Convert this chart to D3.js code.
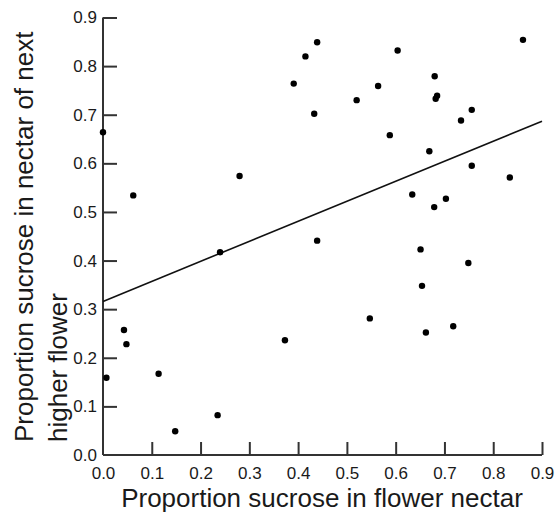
<!DOCTYPE html>
<html>
<head>
<meta charset="utf-8">
<script src="https://cdn.jsdelivr.net/npm/d3@7"></script>
<style>
  body { margin: 0; background: #fff; }
  svg text { font-family: "Liberation Sans", Arial, Helvetica, sans-serif; fill: #1a1a1a; }
  .tick text { font-size: 17px; }
</style>
</head>
<body>
<div id="chart"></div>
<script>
// sucrose proportion in flower nectar (x) vs next higher flower (y)
const sucroseFlower = [
  0.439, 0.415, 0.391, 0.433, 0.604, 0.520, 0.564, 0.680, 0.685, 0.682,
  0.756, 0.734, 0.588, 0.669, 0.756, 0.834, 0.861, 0.634, 0.703, 0.679,
  0.439, 0.651, 0.749, 0.654, 0.547, 0.718, 0.662, 0.373, 0.000, 0.062,
  0.280, 0.240, 0.043, 0.048, 0.007, 0.114, 0.148, 0.235
];
const sucroseNext = [
  0.849, 0.820, 0.764, 0.702, 0.832, 0.730, 0.759, 0.779, 0.739, 0.733,
  0.710, 0.688, 0.658, 0.625, 0.595, 0.571, 0.854, 0.536, 0.527, 0.510,
  0.441, 0.423, 0.395, 0.348, 0.281, 0.265, 0.252, 0.236, 0.664, 0.534,
  0.574, 0.417, 0.257, 0.228, 0.159, 0.167, 0.049, 0.082
];
// fitted regression line (intercept, slope)
const fitIntercept = 0.316;
const fitSlope = 0.412;
const tickValues = [0, 0.1, 0.2, 0.3, 0.4, 0.5, 0.6, 0.7, 0.8, 0.9];

const W = 556, H = 515;
const margin = { top: 17.5, right: 14, bottom: 60, left: 103 };
const width = W - margin.left - margin.right;
const height = H - margin.top - margin.bottom;

const svg = d3.select("#chart").append("svg")
  .attr("width", W)
  .attr("height", H);

const g = svg.append("g")
  .attr("transform", `translate(${margin.left},${margin.top})`);

const x = d3.scaleLinear().domain([0, 0.9]).range([0, width]);
const y = d3.scaleLinear().domain([0, 0.9]).range([height, 0]);

// X axis, ticks pointing inward
const xAxis = g.append("g")
  .attr("transform", `translate(0,${height})`)
  .call(d3.axisBottom(x).tickValues(tickValues).tickFormat(d3.format(".1f")).tickSize(-13).tickPadding(11.5));
xAxis.select(".domain").attr("stroke", "#333").attr("stroke-width", 2).attr("d", `M0,0H${width}`);
xAxis.selectAll(".tick line").attr("stroke", "#333").attr("stroke-width", 2)
  .filter(d => d === 0).remove();
xAxis.selectAll(".tick text").attr("fill", "#1a1a1a");

// Y axis
const yAxis = g.append("g")
  .call(d3.axisLeft(y).tickValues(tickValues).tickFormat(d3.format(".1f")).tickSize(-14).tickPadding(6));
yAxis.select(".domain").attr("stroke", "#333").attr("stroke-width", 2).attr("d", `M0,${height}V0`);
yAxis.selectAll(".tick line").attr("stroke", "#333").attr("stroke-width", 2)
  .filter(d => d === 0).remove();
yAxis.selectAll(".tick text").attr("fill", "#1a1a1a");

// regression line
g.append("line")
  .attr("x1", x(0)).attr("y1", y(fitIntercept))
  .attr("x2", x(0.9)).attr("y2", y(fitIntercept + fitSlope * 0.9))
  .attr("stroke", "#111").attr("stroke-width", 1.6);

// points
g.selectAll("circle.pt")
  .data(d3.zip(sucroseFlower, sucroseNext))
  .enter().append("circle")
  .attr("class", "pt")
  .attr("cx", d => x(d[0]))
  .attr("cy", d => y(d[1]))
  .attr("r", 3.2)
  .attr("fill", "#000");

// axis titles
svg.append("text")
  .attr("x", 322).attr("y", 507)
  .attr("text-anchor", "middle")
  .attr("font-size", 26)
  .text("Proportion sucrose in flower nectar");

const yTitle = svg.append("text")
  .attr("transform", "translate(33,442) rotate(-90)")
  .attr("font-size", 26);
yTitle.append("tspan").attr("x", 0).attr("y", 0).text("Proportion sucrose in nectar of next");
yTitle.append("tspan").attr("x", 0).attr("y", 33.5).text("higher flower");
</script>
</body>
</html>
